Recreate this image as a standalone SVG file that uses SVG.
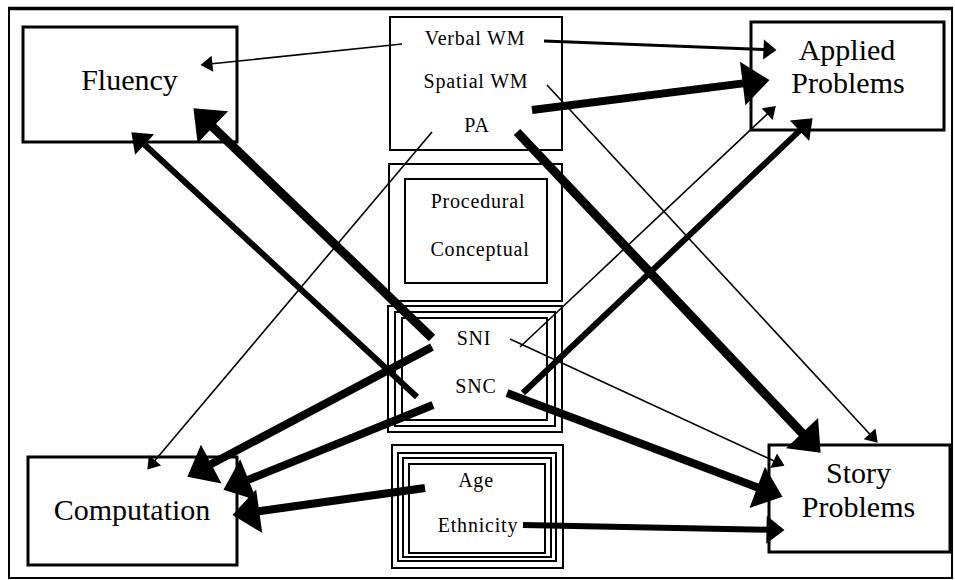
<svg xmlns="http://www.w3.org/2000/svg" width="955" height="580" viewBox="0 0 955 580">
<style>
.box{fill:#fff;stroke:#000;stroke-width:2}
.big{fill:#fff;stroke:#000;stroke-width:3}
.frame{fill:none;stroke:#000}
.t1{font-family:"Liberation Serif","Times New Roman",serif;font-size:30px;fill:#000;text-anchor:middle}
.t2{font-family:"Liberation Serif","Times New Roman",serif;font-size:20px;fill:#000;text-anchor:middle;letter-spacing:0.8px}
.c{fill:none;stroke:#000;stroke-linecap:butt}
.w1{stroke-width:1.6}
.w3{stroke-width:3}
.w6{stroke-width:6}
.w8{stroke-width:8}
.w9{stroke-width:9}
</style>
<defs>
<marker id="ah-s" markerUnits="userSpaceOnUse" markerWidth="14" markerHeight="18" refX="0.5" refY="8" orient="auto" overflow="visible"><path d="M0,0 L12,8 L0,16 z" fill="#000"/></marker>
<marker id="ah-m" markerUnits="userSpaceOnUse" markerWidth="15" markerHeight="22" refX="0.5" refY="10" orient="auto" overflow="visible"><path d="M0,0 L13,10 L0,20 z" fill="#000"/></marker>
<marker id="ah-ml" markerUnits="userSpaceOnUse" markerWidth="20" markerHeight="30" refX="0.5" refY="14" orient="auto" overflow="visible"><path d="M0,0 L18,14 L0,28 z" fill="#000"/></marker>
<marker id="ah-l" markerUnits="userSpaceOnUse" markerWidth="30" markerHeight="46" refX="0.5" refY="22" orient="auto" overflow="visible"><path d="M0,0 L27,22 L0,44 z" fill="#000"/></marker>
</defs>
<rect width="955" height="580" fill="#fff"/>
<g id="frame">
<rect class="frame" x="9" y="8" width="943" height="570" stroke-width="2"/>
<line x1="8" y1="8.5" x2="953" y2="8.5" stroke="#000" stroke-width="3.5"/>
</g>
<g id="fluency"><rect class="big" x="23" y="27" width="214" height="115"/><text class="t1" x="129.5" y="90">Fluency</text></g>
<g id="applied-problems"><rect class="big" x="751" y="22" width="193" height="108"/><text class="t1" x="847" y="60">Applied</text><text class="t1" x="848" y="93">Problems</text></g>
<g id="computation"><rect class="big" x="28" y="457" width="209" height="108"/><text class="t1" x="132" y="520">Computation</text></g>
<g id="story-problems"><rect class="big" x="769" y="445" width="181" height="107"/><text class="t1" x="858.5" y="483">Story</text><text class="t1" x="858.5" y="517">Problems</text></g>
<g id="cognitive"><rect class="box" x="390" y="17" width="172" height="133"/><text class="t2" x="475" y="45">Verbal WM</text><text class="t2" x="476" y="88">Spatial WM</text><text class="t2" x="477" y="132">PA</text></g>
<g id="knowledge"><rect class="box" x="389" y="164" width="173" height="137"/><rect class="box" x="405" y="179" width="142" height="104"/><text class="t2" x="478" y="208">Procedural</text><text class="t2" x="480" y="256">Conceptual</text></g>
<g id="number-sense"><rect class="box" x="388" y="306" width="174" height="126"/><rect class="box" x="395" y="312" width="160" height="114"/><rect class="box" x="402" y="318" width="145" height="102"/><text class="t2" x="474" y="345">SNI</text><text class="t2" x="476" y="393">SNC</text></g>
<g id="demographics"><rect class="box" x="392" y="445" width="171" height="123"/><rect class="box" x="398" y="453" width="158" height="108"/><rect class="box" x="403" y="458" width="148" height="99"/><rect class="box" x="409" y="464" width="136" height="89"/><text class="t2" x="476" y="487">Age</text><text class="t2" x="478" y="532">Ethnicity</text></g>
<g id="connectors">
<line class="c w1" x1="402" y1="44" x2="211.9" y2="63.8" marker-end="url(#ah-s)"/>
<line class="c w3" x1="544" y1="41" x2="764" y2="49.5" marker-end="url(#ah-m)"/>
<line class="c w8" x1="532" y1="110" x2="743.2" y2="83.4" marker-end="url(#ah-l)"/>
<line class="c w1" x1="547" y1="85" x2="869.9" y2="434.2" marker-end="url(#ah-s)"/>
<line class="c w9" x1="517" y1="132" x2="802.4" y2="433.4" marker-end="url(#ah-l)"/>
<line class="c w1" x1="432" y1="132" x2="154.7" y2="460.8" marker-end="url(#ah-s)"/>
<line class="c w9" x1="432" y1="338" x2="212.5" y2="126.7" marker-end="url(#ah-l)"/>
<line class="c w6" x1="417" y1="397" x2="144.2" y2="144.2" marker-end="url(#ah-ml)"/>
<line class="c w8" x1="432" y1="347" x2="210.8" y2="464.3" marker-end="url(#ah-l)"/>
<line class="c w8" x1="433" y1="405" x2="248" y2="479.9" marker-end="url(#ah-l)"/>
<line class="c w8" x1="425" y1="488" x2="258.7" y2="511.3" marker-end="url(#ah-l)"/>
<line class="c w6" x1="523" y1="525" x2="767" y2="529.7" marker-end="url(#ah-ml)"/>
<line class="c w1" x1="510" y1="339" x2="774.1" y2="461" marker-end="url(#ah-s)"/>
<line class="c w8" x1="507" y1="393" x2="757.7" y2="487.5" marker-end="url(#ah-l)"/>
<line class="c w1" x1="520" y1="347" x2="767.5" y2="113.9" marker-end="url(#ah-s)"/>
<line class="c w6" x1="523" y1="393" x2="799.9" y2="130.4" marker-end="url(#ah-ml)"/>
</g>
</svg>
